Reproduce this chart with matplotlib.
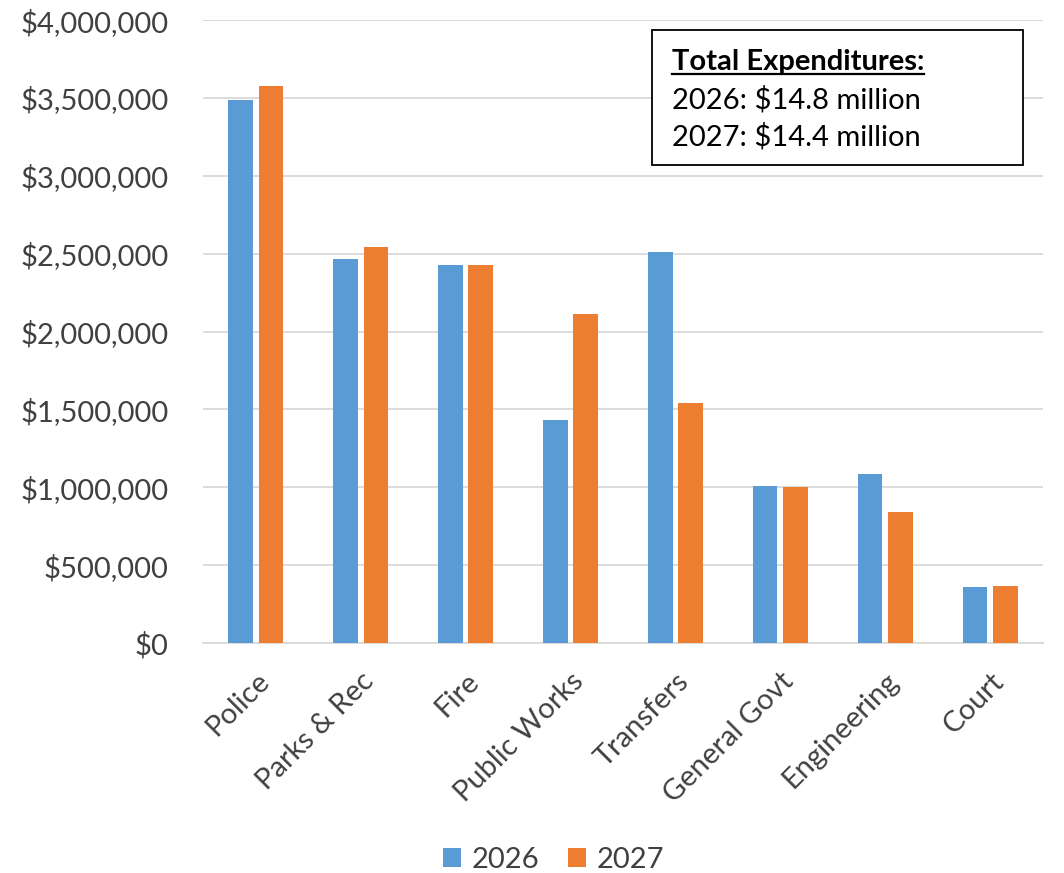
import matplotlib
matplotlib.use("Agg")
import matplotlib.pyplot as plt
import numpy as np
from matplotlib.patches import Rectangle
from matplotlib.ticker import FuncFormatter, MultipleLocator

categories = ["Police", "Parks & Rec", "Fire", "Public Works", "Transfers",
              "General Govt", "Engineering", "Court"]
values_2026 = [3486000, 2466000, 2427000, 1430000, 2508000, 1008000, 1083000, 358000]
values_2027 = [3576000, 2543000, 2427000, 2112000, 1543000, 1004000, 839000, 368000]
series_labels = ["2026", "2027"]
box_title = "Total Expenditures:"
box_lines = ["2026: $14.8 million", "2027: $14.4 million"]

plt.rcParams['font.family'] = ['Lato', 'DejaVu Sans']

fig = plt.figure(figsize=(10.64, 8.73), dpi=100)
ax = fig.add_axes([0.191, 0.2635, 0.789, 0.7135])

x = np.arange(len(categories))
w = 0.235
off = 0.145
c1, c2 = "#5B9BD5", "#ED7D31"
ax.bar(x - off, values_2026, w, color=c1, label=series_labels[0], zorder=3)
ax.bar(x + off, values_2027, w, color=c2, label=series_labels[1], zorder=3)

ax.set_xlim(-0.5, len(categories) - 0.5)
ax.set_ylim(0, 4000000)
ax.yaxis.set_major_locator(MultipleLocator(500000))
ax.yaxis.set_major_formatter(FuncFormatter(lambda v, p: "${:,.0f}".format(v)))
ax.grid(axis='y', color="#D9D9D9", linewidth=1.3, zorder=0)
for s in ["top", "right", "left"]:
    ax.spines[s].set_visible(False)
ax.spines["bottom"].set_color("#D9D9D9")
ax.spines["bottom"].set_linewidth(1.3)
ax.tick_params(axis='y', length=0, labelsize=21, colors="#404040", pad=25)
ax.tick_params(axis='x', length=0, labelsize=21, colors="#404040", pad=18)
ax.set_xticks(x)
ax.set_xticklabels(categories, rotation=45, ha='right', rotation_mode='anchor')

leg = fig.legend(loc='lower center', bbox_to_anchor=(0.52, -0.03), ncol=2, frameon=False,
                 fontsize=21, handlelength=0.62, handleheight=0.62, columnspacing=1.0,
                 handletextpad=0.35)
for t in leg.get_texts():
    t.set_color("#404040")

# annotation box
ax.add_patch(Rectangle((0.5345, 0.767), 0.4425, 0.217, transform=ax.transAxes,
                       fill=True, facecolor="white", edgecolor="black", linewidth=1.3, zorder=5))
tx = (672 - 203) / 840
t1 = ax.text(tx, (643 - 62) / 623, box_title, transform=ax.transAxes, fontsize=21,
             fontweight='bold', va='center', ha='left', zorder=6, color="black")
ax.text(tx, (643 - 100) / 623, box_lines[0], transform=ax.transAxes, fontsize=21,
        va='center', ha='left', zorder=6, color="black")
ax.text(tx, (643 - 137) / 623, box_lines[1], transform=ax.transAxes, fontsize=21,
        va='center', ha='left', zorder=6, color="black")

fig.canvas.draw()
bb = t1.get_window_extent().transformed(ax.transAxes.inverted())
ax.plot([bb.x0, bb.x1], [bb.y0 + 0.002, bb.y0 + 0.002], transform=ax.transAxes,
        color="black", linewidth=1.6, zorder=6)

fig.savefig("out.png", dpi=100)
